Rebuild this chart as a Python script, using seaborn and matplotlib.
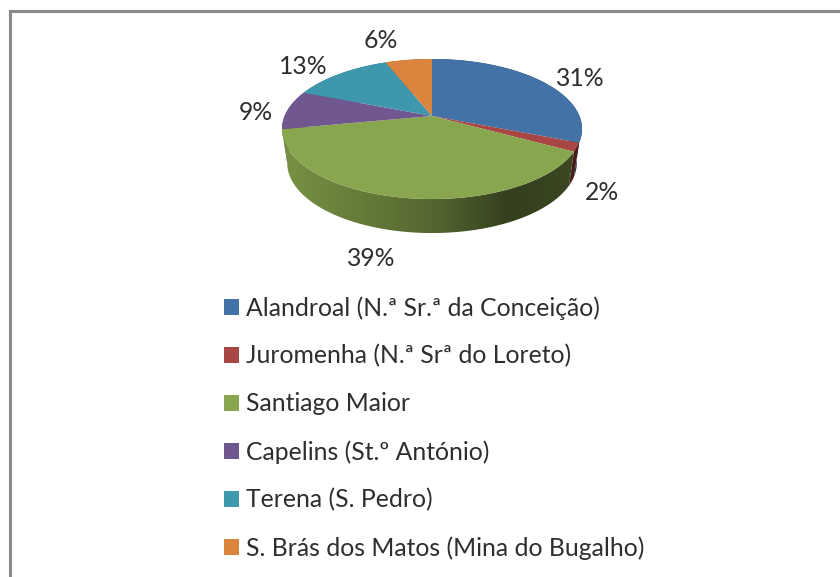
import numpy as np
import matplotlib
matplotlib.use("Agg")
import matplotlib.pyplot as plt
import seaborn as sns
from matplotlib.patches import Patch, Polygon

categorias = [
    "Alandroal (N.ª Sr.ª da Conceição)",
    "Juromenha (N.ª Srª do Loreto)",
    "Santiago Maior",
    "Capelins (St.º António)",
    "Terena (S. Pedro)",
    "S. Brás dos Matos (Mina do Bugalho)",
]
valores = [31, 2, 39, 9, 13, 6]
cores = ["#4372a6", "#a84644", "#88a64e", "#71578f", "#3f97ae", "#db843d"]
pos_etiquetas = [(580, 79), (602, 192), (371, 259), (256, 113), (303, 67), (381, 41)]

sns.set_theme(style="white")
plt.rcParams["font.family"] = ["Lato", "DejaVu Sans"]
paleta = sns.color_palette(cores)
COR_TEXTO = "#2e2e2e"

# geometria da tarte em perspectiva (pixels da figura)
CX, APEX_Y = 432, 116
A, B, K = 147.4, 67.6, 0.186
ESCALA_BASE, PROFUNDIDADE = 0.965, 34


def aro(angulos, escala=1.0, dy=0.0):
    """Projeta pontos do aro do disco para o plano da figura."""
    u, v = np.sin(angulos), np.cos(angulos)
    w = 1 + K * v
    return CX + escala * A * u / w, APEX_Y + dy - B * v / w


def sombra(x):
    # escurece da esquerda para a direita, como o gradiente do lado do disco
    return np.interp(x, [282, 432, 510, 581], [0.88, 0.62, 0.38, 0.44])


fig = plt.figure(figsize=(8.4, 5.77), dpi=100)
ax = fig.add_axes([0, 0, 1, 1])
ax.set_xlim(0, 840)
ax.set_ylim(577, 0)
ax.axis("off")

limites = np.cumsum([0] + valores) / sum(valores) * 2 * np.pi

# lados do disco: as fatias de trás primeiro, para ficarem tapadas
for i in [3, 4, 5, 0, 1, 2]:
    t = np.linspace(limites[i], limites[i + 1], 120)
    xt, yt = aro(t)
    xb, yb = aro(t, ESCALA_BASE, PROFUNDIDADE)
    pts = np.column_stack([np.r_[xt, xb[::-1]], np.r_[yt, yb[::-1]]])
    xs = np.arange(270, 592)
    grad = np.array(paleta[i])[None, None, :] * sombra(xs)[None, :, None]
    img = ax.imshow(grad, extent=(270, 592, 250, 50), aspect="auto", zorder=2)
    img.set_clip_path(Polygon(pts, closed=True, transform=ax.transData))
ax.set_xlim(0, 840)
ax.set_ylim(577, 0)

# topo do disco
for i, cor in enumerate(paleta):
    t = np.linspace(limites[i], limites[i + 1], 120)
    xt, yt = aro(t)
    ax.fill(np.r_[CX, xt], np.r_[APEX_Y, yt], color=cor, lw=0, zorder=3)

for valor, (x, y) in zip(valores, pos_etiquetas):
    ax.text(x, y, f"{valor}%", fontsize=17.8, color=COR_TEXTO,
            ha="center", va="center", zorder=4)

# moldura do gráfico: só topo e esquerda entram na imagem
ax.plot([9.5, 9.5, 840], [577, 11, 11], color="#8a8a8a", lw=2.2,
        solid_joinstyle="miter", zorder=1)

tam = 17.8
fs_px = tam * 100 / 72
handles = [Patch(facecolor=c, edgecolor="none") for c in paleta]
leg = ax.legend(handles, categorias, loc="upper left",
                bbox_to_anchor=(224, 296), bbox_transform=ax.transData,
                frameon=False, fontsize=tam, labelcolor=COR_TEXTO,
                handlelength=15 / fs_px, handleheight=15 / fs_px,
                handletextpad=7 / fs_px, labelspacing=1.0,
                borderpad=0, borderaxespad=0)

fig.savefig("out.png", dpi=100)
plt.close(fig)
